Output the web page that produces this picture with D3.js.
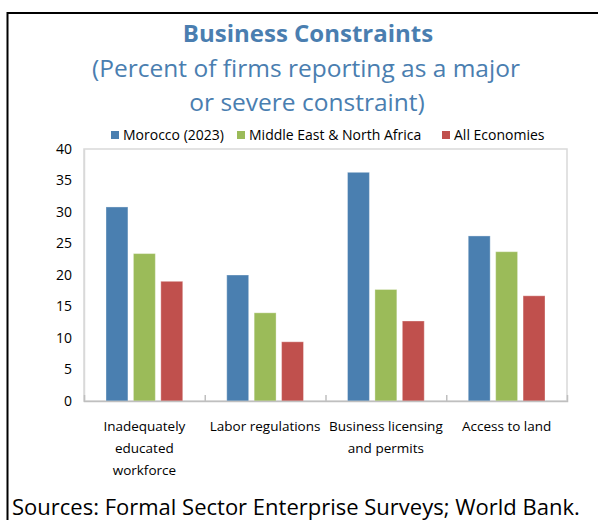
<!DOCTYPE html>
<html>
<head>
<meta charset="utf-8">
<script src="https://cdn.jsdelivr.net/npm/d3@7"></script>
<style>
  html, body { margin: 0; padding: 0; background: #fff; }
  svg { display: block; }
</style>
</head>
<body>
<svg id="chart" width="598" height="520"></svg>
<script>
// Survey shares (percent of firms naming each item a major or severe constraint)
const categories = [
  ["Inadequately", "educated", "workforce"],
  ["Labor regulations"],
  ["Business licensing", "and permits"],
  ["Access to land"]
];
const seriesNames = ["Morocco (2023)", "Middle East & North Africa", "All Economies"];
const morocco = [30.8, 20.0, 36.3, 26.2];
const mena = [23.4, 14.0, 17.7, 23.7];
const allEconomies = [19.0, 9.4, 12.7, 16.7];
const yTicks = [0, 5, 10, 15, 20, 25, 30, 35, 40];

const colors = ["#4A7FB0", "#9BBB59", "#C0504D"];
const seriesValues = [morocco, mena, allEconomies];
const font = "'Open Sans', 'Noto Sans', sans-serif";

const svg = d3.select("#chart");

// outer frame (top and left edges visible)
svg.append("rect")
  .attr("x", 7.5).attr("y", 13)
  .attr("width", 620).attr("height", 540)
  .attr("fill", "none").attr("stroke", "#000").attr("stroke-width", 2);

// titles
const titleColor = "#4A7EB0";
svg.append("text")
  .attr("x", 308).attr("y", 42)
  .attr("text-anchor", "middle")
  .attr("font-family", font).attr("font-weight", 700)
  .attr("font-size", 24).attr("fill", titleColor)
  .text("Business Constraints");
svg.append("text")
  .attr("x", 306).attr("y", 77)
  .attr("text-anchor", "middle")
  .attr("font-family", font)
  .attr("font-size", 24.5).attr("fill", titleColor)
  .text("(Percent of firms reporting as a major");
svg.append("text")
  .attr("x", 307).attr("y", 111)
  .attr("text-anchor", "middle")
  .attr("font-family", font)
  .attr("font-size", 24.5).attr("fill", titleColor)
  .text("or severe constraint)");

// scales
const x = d3.scaleBand()
  .domain(d3.range(categories.length))
  .range([84, 567])
  .paddingInner(0).paddingOuter(0);

const inner = d3.scaleBand()
  .domain(d3.range(seriesNames.length))
  .range([22, x.bandwidth() - 22])
  .paddingInner(0.2).paddingOuter(0);

const y = d3.scaleLinear().domain([0, 40]).range([401, 149]);

// plot frame
svg.append("rect")
  .attr("x", 84).attr("y", 149)
  .attr("width", 567 - 84).attr("height", 401 - 149)
  .attr("fill", "none").attr("stroke", "#D9D9D9").attr("stroke-width", 1.5);

// y axis
const yAxis = d3.axisLeft(y).tickValues(yTicks).tickSize(0).tickPadding(12);
const gy = svg.append("g").attr("transform", "translate(84,0)").call(yAxis);
gy.select(".domain").attr("stroke", "#D9D9D9").attr("stroke-width", 1.5);
gy.selectAll("text")
  .attr("font-family", font).attr("font-size", 14).attr("fill", "#000");

// bars
const groups = svg.append("g").selectAll("g")
  .data(categories.map((c, i) => i))
  .join("g")
  .attr("transform", i => `translate(${x(i)},0)`);

groups.selectAll("rect")
  .data(i => seriesValues.map((vals, s) => ({ s, v: vals[i] })))
  .join("rect")
  .attr("x", d => inner(d.s))
  .attr("width", inner.bandwidth())
  .attr("y", d => y(d.v))
  .attr("height", d => y(0) - y(d.v))
  .attr("fill", d => colors[d.s])
  .attr("stroke", "#ffffff").attr("stroke-opacity", 0.35).attr("stroke-width", 1);

// x axis with category separators ticking upward
const xSep = d3.scaleLinear().domain([0, categories.length]).range([84, 567]);
const xAxis = d3.axisBottom(xSep).tickValues(d3.range(1, categories.length)).tickSize(-6).tickFormat("");
const gx = svg.append("g").attr("transform", "translate(0,401)").call(xAxis);
gx.select(".domain").attr("stroke", "#BFBFBF").attr("stroke-width", 1.5);
gx.selectAll(".tick line").attr("stroke", "#BFBFBF").attr("stroke-width", 1.5);

// category labels
const labels = svg.append("g").selectAll("text")
  .data(categories)
  .join("text")
  .attr("text-anchor", "middle")
  .attr("font-family", font).attr("font-size", 13.5).attr("fill", "#000")
  .attr("transform", (d, i) => `translate(${x(i) + x.bandwidth() / 2},431)`);
labels.selectAll("tspan")
  .data(d => d)
  .join("tspan")
  .attr("x", 0)
  .attr("y", (d, j) => j * 22)
  .text(d => d);

// legend
const legendX = [111, 237, 442];
const legend = svg.append("g").selectAll("g")
  .data(seriesNames)
  .join("g")
  .attr("transform", (d, i) => `translate(${legendX[i]},135)`);
legend.append("rect")
  .attr("x", 0).attr("y", -4).attr("width", 8).attr("height", 8)
  .attr("fill", (d, i) => colors[i]);
legend.append("text")
  .attr("x", 12).attr("y", 5)
  .attr("font-family", font).attr("font-size", 14).attr("fill", "#000")
  .text(d => d);

// source note
svg.append("text")
  .attr("x", 12).attr("y", 515)
  .attr("font-family", font).attr("font-size", 22).attr("fill", "#000")
  .text("Sources: Formal Sector Enterprise Surveys; World Bank.");
</script>
</body>
</html>
